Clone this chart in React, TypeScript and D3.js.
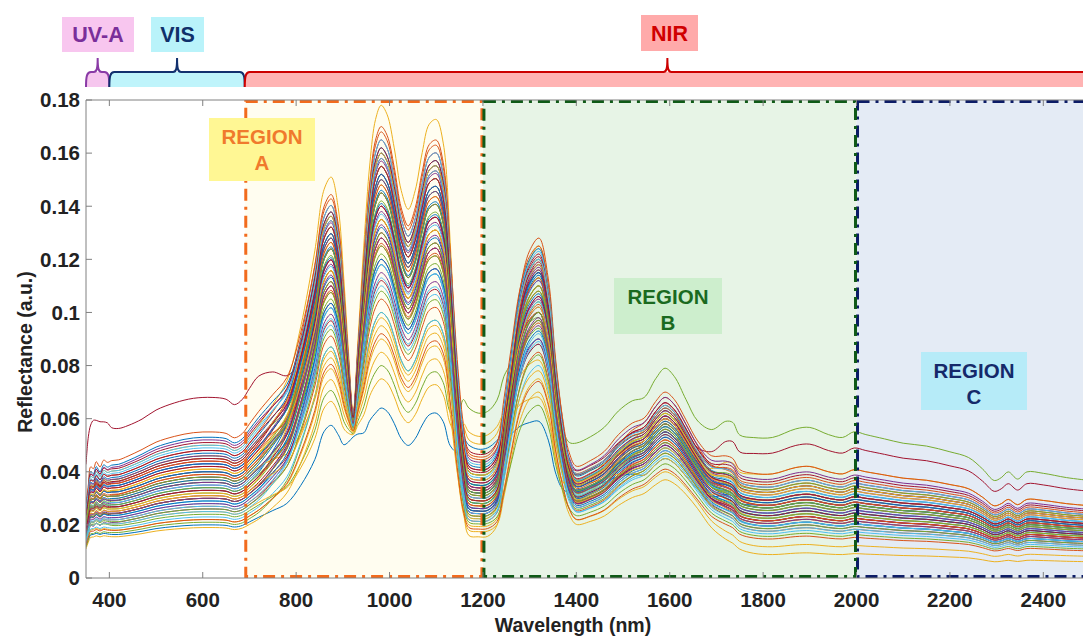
import * as d3 from "d3";
import { useEffect, useRef } from "react";

const W = 1083;
const H = 639;

// spectral bands drawn above the axes
const bandNames = ["UV-A", "VIS", "NIR"];
const bandFrom = [350, 400, 690];
const bandTo = [400, 690, 2500];

// analysis regions inside the plot
const regionNames = ["A", "B", "C"];
const regionFrom = [690, 1200, 2000];
const regionTo = [1200, 2000, 2500];

const xTicks = [400, 600, 800, 1000, 1200, 1400, 1600, 1800, 2000, 2200, 2400];
const yTicks = [0, 0.02, 0.04, 0.06, 0.08, 0.1, 0.12, 0.14, 0.16, 0.18];

// shape of a spectrum: each key wavelength is read as a mix of the
// per-spectrum levels below -> [wl, const, uv, vis, A, T, B, S, C]
const shape = [
  [350, 0, 0.6, 0.1, 0, 0, 0, 0, 0],
  [355, 0, 0.75, 0.12, 0, 0, 0, 0, 0],
  [360, 0, 0.45, 0.45, 0, 0, 0, 0, 0],
  [366, 0, 0.65, 0.3, 0, 0, 0, 0, 0],
  [372, 0, 0.4, 0.52, 0, 0, 0, 0, 0],
  [380, 0, 0.55, 0.38, 0, 0, 0, 0, 0],
  [388, 0, 0.3, 0.6, 0, 0, 0, 0, 0],
  [396, 0, 0.35, 0.55, 0, 0, 0, 0, 0],
  [405, 0, 0.15, 0.7, 0, 0, 0, 0, 0],
  [420, 0, 0.1, 0.74, 0, 0, 0, 0, 0],
  [440, 0, 0.05, 0.8, 0, 0, 0, 0, 0],
  [470, 0, 0, 0.88, 0, 0, 0, 0, 0],
  [500, 0, 0, 0.93, 0, 0, 0, 0, 0],
  [540, 0, 0, 0.97, 0, 0, 0, 0, 0],
  [580, 0, 0, 0.995, 0, 0, 0, 0, 0],
  [620, 0, 0, 1.0, 0, 0, 0, 0, 0],
  [650, 0, 0, 0.99, 0, 0, 0, 0, 0],
  [668, 0, 0, 0.96, 0, 0, 0, 0, 0],
  [685, 0, 0, 0.99, 0, 0, 0, 0, 0],
  [700, 0, 0, 1.04, 0.005, 0, 0, 0, 0],
  [720, 0, 0, 1.08, 0.02, 0, 0, 0, 0],
  [750, 0, 0, 0.95, 0.1, 0, 0, 0, 0],
  [780, 0, 0, 0.7, 0.22, 0, 0, 0, 0],
  [810, 0, 0, 0.4, 0.42, 0, 0, 0, 0],
  [840, 0, 0, 0.15, 0.65, 0, 0, 0, 0],
  [860, 0.004, 0, 0, 0.8, 0, 0, 0, 0],
  [875, 0.005, 0, 0, 0.82, 0, 0, 0, 0],
  [890, 0.006, 0, 0, 0.75, 0, 0, 0, 0],
  [902, 0.015, 0, 0, 0.55, 0, 0, 0, 0],
  [912, 0.032, 0, 0, 0.3, 0, 0, 0, 0],
  [922, 0.048, 0, 0, 0.08, 0, 0, 0, 0],
  [932, 0.035, 0, 0, 0.3, 0, 0, 0, 0],
  [945, 0.015, 0, 0, 0.62, 0, 0, 0, 0],
  [958, 0.005, 0, 0, 0.85, 0, 0, 0, 0],
  [970, 0, 0, 0, 0.97, 0, 0, 0, 0],
  [982, 0, 0, 0, 1, 0, 0, 0, 0],
  [995, 0, 0, 0, 0.98, 0, 0, 0, 0],
  [1010, 0, 0, 0, 0.91, 0, 0, 0, 0],
  [1025, 0, 0, 0, 0.82, 0, 0, 0, 0],
  [1040, 0, 0, 0, 0.78, 0, 0, 0, 0],
  [1055, 0, 0, 0, 0.82, 0, 0, 0, 0],
  [1070, 0, 0, 0, 0.9, 0, 0, 0, 0],
  [1085, 0, 0, 0, 0.96, 0, 0, 0, 0],
  [1100, 0, 0, 0, 0.97, 0, 0, 0, 0],
  [1115, 0, 0, 0, 0.92, 0, 0, 0, 0],
  [1130, 0, 0, 0, 0.7, 0.1, 0, 0, 0],
  [1145, 0, 0, 0, 0.35, 0.5, 0, 0, 0],
  [1158, 0, 0, 0, 0.08, 0.95, 0, 0, 0],
  [1170, 0, 0, 0, 0, 1.0, 0, 0, 0],
  [1190, 0, 0, 0, 0, 0.97, 0, 0, 0],
  [1210, 0, 0, 0, 0, 0.98, 0, 0, 0],
  [1230, 0, 0, 0, 0, 1.0, 0.03, 0, 0],
  [1245, 0, 0, 0, 0, 0.85, 0.22, 0, 0],
  [1260, 0, 0, 0, 0, 0.5, 0.5, 0, 0],
  [1280, 0, 0, 0, 0, 0.2, 0.8, 0, 0],
  [1300, 0, 0, 0, 0, 0.05, 0.95, 0, 0],
  [1320, 0, 0, 0, 0, 0, 1, 0, 0],
  [1340, 0, 0, 0, 0, 0, 0.88, 0, 0],
  [1355, 0, 0, 0, 0, 0, 0.6, 0.1, 0],
  [1370, 0, 0, 0, 0, 0.05, 0.3, 0.3, 0],
  [1385, 0, 0, 0, 0, 0.2, 0.1, 0.36, 0],
  [1400, 0, 0, 0, 0, 0.3, 0, 0.4, 0],
  [1430, 0, 0, 0, 0, 0.3, 0, 0.43, 0],
  [1460, 0, 0, 0, 0, 0.27, 0, 0.5, 0],
  [1490, 0, 0, 0, 0, 0.18, 0, 0.65, 0],
  [1520, 0, 0, 0, 0, 0.08, 0, 0.78, 0],
  [1545, 0, 0, 0, 0, 0, 0, 0.86, 0],
  [1570, 0, 0, 0, 0, 0, 0, 0.95, 0],
  [1590, 0, 0, 0, 0, 0, 0, 1, 0],
  [1610, 0, 0, 0, 0, 0, 0, 0.96, 0],
  [1635, 0, 0, 0, 0, 0, 0, 0.85, 0],
  [1660, 0, 0, 0, 0, 0, 0, 0.68, 0.1],
  [1690, 0, 0, 0, 0, 0, 0, 0.4, 0.45],
  [1720, 0, 0, 0, 0, 0, 0, 0.2, 0.8],
  [1735, 0, 0, 0, 0, 0, 0, 0.14, 0.88],
  [1750, 0, 0, 0, 0, 0, 0, 0.08, 0.88],
  [1780, 0, 0, 0, 0, 0, 0, 0.02, 0.95],
  [1820, 0, 0, 0, 0, 0, 0, 0, 0.98],
  [1870, 0, 0, 0, 0, 0, 0, 0, 1.04],
  [1900, 0, 0, 0, 0, 0, 0, 0, 1.05],
  [1940, 0, 0, 0, 0, 0, 0, 0, 1.0],
  [1970, 0, 0, 0, 0, 0, 0, 0, 0.98],
  [1995, 0, 0, 0, 0, 0, 0, 0, 1.02],
  [2020, 0, 0, 0, 0, 0, 0, 0, 1.0],
  [2060, 0, 0, 0, 0, 0, 0, 0, 0.97],
  [2100, 0, 0, 0, 0, 0, 0, 0, 0.94],
  [2150, 0, 0, 0, 0, 0, 0, 0, 0.92],
  [2200, 0, 0, 0, 0, 0, 0, 0, 0.88],
  [2240, 0, 0, 0, 0, 0, 0, 0, 0.84],
  [2270, 0, 0, 0, 0, 0, 0, 0, 0.76],
  [2295, 0, 0, 0, 0, 0, 0, 0, 0.68],
  [2310, 0, 0, 0, 0, 0, 0, 0, 0.7],
  [2325, 0, 0, 0, 0, 0, 0, 0, 0.74],
  [2345, 0, 0, 0, 0, 0, 0, 0, 0.69],
  [2365, 0, 0, 0, 0, 0, 0, 0, 0.74],
  [2400, 0, 0, 0, 0, 0, 0, 0, 0.73],
  [2450, 0, 0, 0, 0, 0, 0, 0, 0.7],
  [2500, 0, 0, 0, 0, 0, 0, 0, 0.68],
];

// per-spectrum levels
const uvStart = [0.016, 0.03, 0.035, 0.018, 0.02, 0.028, 0.06, 0.025, 0.022, 0.015, 0.03, 0.024, 0.02, 0.032, 0.027, 0.034, 0.018, 0.025, 0.03, 0.022, 0.028, 0.033, 0.02, 0.026, 0.035, 0.016, 0.031, 0.023, 0.036, 0.026, 0.028, 0.021, 0.032, 0.018, 0.03, 0.024, 0.038, 0.019, 0.029, 0.025, 0.034, 0.021, 0.027, 0.031, 0.024, 0.033, 0.02, 0.026, 0.036, 0.022, 0.028, 0.023, 0.03, 0.025, 0.019, 0.034, 0.029, 0.024, 0.032, 0.027, 0.022, 0.035, 0.025, 0.031, 0.017, 0.029, 0.023, 0.028, 0.02, 0.032];
const visLevel = [0.02, 0.042, 0.05, 0.026, 0.024, 0.038, 0.068, 0.034, 0.03, 0.019, 0.045, 0.032, 0.028, 0.044, 0.036, 0.048, 0.022, 0.035, 0.04, 0.029, 0.038, 0.047, 0.027, 0.037, 0.052, 0.021, 0.043, 0.031, 0.053, 0.039, 0.041, 0.028, 0.046, 0.023, 0.042, 0.033, 0.055, 0.025, 0.04, 0.034, 0.049, 0.03, 0.037, 0.044, 0.032, 0.046, 0.026, 0.035, 0.051, 0.029, 0.039, 0.031, 0.043, 0.036, 0.025, 0.048, 0.04, 0.033, 0.045, 0.036, 0.03, 0.05, 0.033, 0.043, 0.022, 0.041, 0.03, 0.038, 0.027, 0.045];
const peakA = [0.064, 0.14, 0.178, 0.12, 0.08, 0.15, 0.13, 0.155, 0.125, 0.085, 0.16, 0.135, 0.145, 0.165, 0.118, 0.17, 0.09, 0.14, 0.15, 0.11, 0.145, 0.16, 0.105, 0.095, 0.155, 0.1, 0.152, 0.128, 0.162, 0.135, 0.148, 0.115, 0.142, 0.1, 0.158, 0.132, 0.168, 0.075, 0.138, 0.122, 0.165, 0.112, 0.146, 0.128, 0.155, 0.15, 0.108, 0.137, 0.162, 0.12, 0.148, 0.098, 0.157, 0.13, 0.118, 0.152, 0.141, 0.126, 0.16, 0.133, 0.125, 0.158, 0.14, 0.152, 0.092, 0.135, 0.128, 0.145, 0.113, 0.155];
const troughT = [0.05, 0.035, 0.016, 0.028, 0.064, 0.032, 0.048, 0.026, 0.024, 0.02, 0.038, 0.03, 0.027, 0.042, 0.036, 0.033, 0.018, 0.025, 0.034, 0.03, 0.031, 0.04, 0.022, 0.052, 0.045, 0.021, 0.029, 0.026, 0.043, 0.032, 0.028, 0.025, 0.04, 0.023, 0.035, 0.029, 0.047, 0.055, 0.033, 0.036, 0.039, 0.03, 0.027, 0.046, 0.023, 0.037, 0.024, 0.031, 0.042, 0.026, 0.034, 0.03, 0.035, 0.032, 0.022, 0.041, 0.033, 0.028, 0.038, 0.034, 0.029, 0.044, 0.03, 0.036, 0.019, 0.04, 0.027, 0.033, 0.025, 0.037];
const peakB = [0.059, 0.108, 0.125, 0.095, 0.098, 0.118, 0.1, 0.115, 0.1, 0.075, 0.12, 0.104, 0.112, 0.122, 0.09, 0.128, 0.07, 0.106, 0.113, 0.088, 0.11, 0.12, 0.085, 0.082, 0.118, 0.065, 0.116, 0.097, 0.124, 0.103, 0.11, 0.09, 0.108, 0.08, 0.119, 0.1, 0.125, 0.068, 0.105, 0.094, 0.123, 0.088, 0.114, 0.1, 0.118, 0.112, 0.084, 0.104, 0.121, 0.093, 0.113, 0.078, 0.117, 0.1, 0.092, 0.115, 0.107, 0.096, 0.12, 0.102, 0.097, 0.12, 0.106, 0.115, 0.074, 0.102, 0.098, 0.11, 0.089, 0.116];
const bumpS = [0.045, 0.06, 0.065, 0.05, 0.079, 0.058, 0.065, 0.057, 0.052, 0.04, 0.063, 0.055, 0.054, 0.066, 0.056, 0.068, 0.037, 0.053, 0.062, 0.05, 0.058, 0.061, 0.047, 0.058, 0.068, 0.043, 0.057, 0.051, 0.064, 0.056, 0.06, 0.048, 0.062, 0.045, 0.06, 0.053, 0.07, 0.045, 0.058, 0.055, 0.063, 0.05, 0.055, 0.064, 0.057, 0.061, 0.047, 0.054, 0.066, 0.049, 0.059, 0.049, 0.06, 0.056, 0.046, 0.063, 0.057, 0.052, 0.062, 0.055, 0.051, 0.065, 0.054, 0.059, 0.041, 0.06, 0.05, 0.058, 0.048, 0.061];
const tailC = [0.028, 0.03, 0.028, 0.022, 0.054, 0.026, 0.048, 0.025, 0.02, 0.012, 0.032, 0.024, 0.02, 0.035, 0.03, 0.034, 0.009, 0.022, 0.029, 0.024, 0.027, 0.031, 0.018, 0.04, 0.038, 0.016, 0.026, 0.021, 0.033, 0.026, 0.03, 0.019, 0.034, 0.017, 0.028, 0.023, 0.04, 0.03, 0.028, 0.027, 0.031, 0.022, 0.024, 0.036, 0.023, 0.03, 0.019, 0.025, 0.037, 0.02, 0.028, 0.021, 0.029, 0.026, 0.018, 0.033, 0.027, 0.022, 0.032, 0.025, 0.023, 0.035, 0.024, 0.029, 0.015, 0.033, 0.021, 0.027, 0.02, 0.03];

const lineColors = ["#0072BD", "#D95319", "#EDB120", "#7E2F8E", "#77AC30", "#4DBEEE", "#A2142F"];

export default function App() {
  const ref = useRef<SVGSVGElement>(null);

  useEffect(() => {
    const svg = d3.select(ref.current);
    svg.selectAll("*").remove();

    const font = "'Liberation Sans', Arial, sans-serif";
    const x = d3.scaleLinear().domain([350, 2500]).range([86, 1090]);
    const y = d3.scaleLinear().domain([0, 0.18]).range([578, 100]);
    const [top, bottom] = [y(0.18), y(0)];

    const regionFill = ["#fffdf0", "#e7f4e6", "#e4ebf5"];
    const regionStroke = ["#f26b1d", "#0f5a17", "#0c1c66"];
    const labelFill = ["#fff794", "#cdeecd", "#b6ebf8"];
    const labelText = ["#f07a2c", "#1a6a1f", "#15296a"];
    const labelBox = [
      [209, 118, 106, 63],
      [614, 278, 108, 56],
      [921, 352, 106, 58],
    ];

    svg.append("defs").append("clipPath").attr("id", "plotclip")
      .append("rect")
      .attr("x", x(350)).attr("y", top)
      .attr("width", x(2500) - x(350)).attr("height", bottom - top);

    // region backgrounds
    svg.append("g").selectAll("rect")
      .data(regionNames)
      .join("rect")
      .attr("x", (d, i) => x(regionFrom[i]))
      .attr("y", top)
      .attr("width", (d, i) => x(regionTo[i]) - x(regionFrom[i]))
      .attr("height", bottom - top)
      .attr("fill", (d, i) => regionFill[i]);

    // spectra
    const spectra = visLevel.map((v, i) => shape.map(r => ({
      wl: r[0],
      val: r[1] + r[2] * uvStart[i] + r[3] * v + r[4] * peakA[i] + r[5] * troughT[i]
        + r[6] * peakB[i] + r[7] * bumpS[i] + r[8] * tailC[i],
    })));

    const line = d3.line<{ wl: number; val: number }>()
      .x(d => x(d.wl))
      .y(d => y(d.val))
      .curve(d3.curveCatmullRom.alpha(0.5));

    svg.append("g")
      .attr("clip-path", "url(#plotclip)")
      .selectAll("path")
      .data(spectra)
      .join("path")
      .attr("d", d => line(d))
      .attr("fill", "none")
      .attr("stroke", (d, i) => lineColors[i % lineColors.length])
      .attr("stroke-width", 1);

    // region borders (C, then A, then B on top)
    const borders = svg.append("g").attr("clip-path", "url(#plotclip)");
    [2, 0, 1].forEach(i => {
      borders.append("rect")
        .attr("x", x(regionFrom[i]) + 1)
        .attr("y", top + 1.5)
        .attr("width", x(regionTo[i]) - x(regionFrom[i]) - 2)
        .attr("height", bottom - top - 3)
        .attr("fill", "none")
        .attr("stroke", regionStroke[i])
        .attr("stroke-width", 3)
        .attr("stroke-dasharray", "12,6,3,6");
    });

    // axes box and ticks
    const ax = svg.append("g").attr("stroke", "#808080").attr("stroke-width", 1);
    ax.append("line").attr("x1", 86).attr("x2", 1090).attr("y1", top).attr("y2", top);
    ax.append("line").attr("x1", 86).attr("x2", 1090).attr("y1", bottom).attr("y2", bottom);
    ax.append("line").attr("x1", 86).attr("x2", 86).attr("y1", top).attr("y2", bottom);
    ax.selectAll(".xb").data(xTicks).join("line")
      .attr("x1", d => x(d)).attr("x2", d => x(d))
      .attr("y1", bottom).attr("y2", bottom - 6);
    ax.selectAll(".xt").data(xTicks).join("line")
      .attr("x1", d => x(d)).attr("x2", d => x(d))
      .attr("y1", top).attr("y2", top + 6);
    ax.selectAll(".yl").data(yTicks).join("line")
      .attr("x1", 86).attr("x2", 92)
      .attr("y1", d => y(d)).attr("y2", d => y(d));

    svg.append("g").selectAll("text")
      .data(xTicks)
      .join("text")
      .attr("x", d => x(d))
      .attr("y", 607)
      .attr("text-anchor", "middle")
      .attr("font-family", font)
      .attr("font-weight", "bold")
      .attr("font-size", 20.5)
      .attr("fill", "#222")
      .text(d => d);

    svg.append("g").selectAll("text")
      .data(yTicks)
      .join("text")
      .attr("x", 80)
      .attr("y", d => y(d))
      .attr("dy", "0.36em")
      .attr("text-anchor", "end")
      .attr("font-family", font)
      .attr("font-weight", "bold")
      .attr("font-size", 20.5)
      .attr("fill", "#222")
      .text(d => (d === 0 ? "0" : String(+d.toFixed(2))));

    svg.append("text")
      .attr("transform", "translate(32,352) rotate(-90)")
      .attr("text-anchor", "middle")
      .attr("font-family", font)
      .attr("font-weight", "bold")
      .attr("font-size", 19.5)
      .attr("fill", "#222")
      .text("Reflectance (a.u.)");

    svg.append("text")
      .attr("x", 573)
      .attr("y", 632)
      .attr("text-anchor", "middle")
      .attr("font-family", font)
      .attr("font-weight", "bold")
      .attr("font-size", 19.5)
      .attr("fill", "#222")
      .text("Wavelength (nm)");

    // region labels
    regionNames.forEach((name, i) => {
      const [bx, by, bw, bh] = labelBox[i];
      const g = svg.append("g");
      g.append("rect").attr("x", bx).attr("y", by).attr("width", bw).attr("height", bh)
        .attr("fill", labelFill[i]);
      ["REGION", name].forEach((t, k) => {
        g.append("text")
          .attr("x", bx + bw / 2)
          .attr("y", by + 19 + k * 26)
          .attr("dy", "0.36em")
          .attr("text-anchor", "middle")
          .attr("font-family", font)
          .attr("font-weight", "bold")
          .attr("font-size", 20.5)
          .attr("fill", labelText[i])
          .text(t);
      });
    });

    // spectral band braces above the plot
    const bandLine = ["#8a3aa6", "#12306e", "#cc0000"];
    const bandFillC = ["#f6c6ee", "#bff4fb", "#ffb3b3"];
    const bandBoxFill = ["#f8c6ef", "#b9f3fa", "#ffaaaa"];
    const bandText = ["#7a2e9a", "#10306a", "#d00000"];
    const bandBox = [
      [62, 17, 72, 35],
      [151, 17, 53, 35],
      [641, 15, 57, 36],
    ];
    const yb = 87;
    const yl = 72;
    const yt = 58;
    bandNames.forEach((name, i) => {
      const x0 = x(bandFrom[i]);
      const x1 = x(bandTo[i]);
      const m = (x0 + x1) / 2;
      const g = svg.append("g");
      g.append("path")
        .attr("d", `M${x0},${yb} C${x0},${yl + 4} ${x0 + 1},${yl} ${x0 + 5},${yl} L${x1 - 5},${yl} C${x1 - 1},${yl} ${x1},${yl + 4} ${x1},${yb} Z`)
        .attr("fill", bandFillC[i]);
      g.append("path")
        .attr("d", `M${x0},${yb} C${x0},${yl + 4} ${x0 + 1},${yl} ${x0 + 5},${yl} L${m - 4},${yl} C${m - 1},${yl} ${m},${yl - 3} ${m},${yt} C${m},${yl - 3} ${m + 1},${yl} ${m + 4},${yl} L${x1 - 5},${yl} C${x1 - 1},${yl} ${x1},${yl + 4} ${x1},${yb}`)
        .attr("fill", "none")
        .attr("stroke", bandLine[i])
        .attr("stroke-width", 2);
      const [bx, by, bw, bh] = bandBox[i];
      g.append("rect").attr("x", bx).attr("y", by).attr("width", bw).attr("height", bh)
        .attr("fill", bandBoxFill[i]);
      g.append("text")
        .attr("x", bx + bw / 2)
        .attr("y", by + bh / 2)
        .attr("dy", "0.36em")
        .attr("text-anchor", "middle")
        .attr("font-family", font)
        .attr("font-weight", "bold")
        .attr("font-size", 21.5)
        .attr("fill", bandText[i])
        .text(name);
    });
  }, []);

  return (
    <svg
      ref={ref}
      width={W}
      height={H}
      viewBox={`0 0 ${W} ${H}`}
      style={{ position: "absolute", left: 0, top: 0, background: "#fff" }}
    />
  );
}
